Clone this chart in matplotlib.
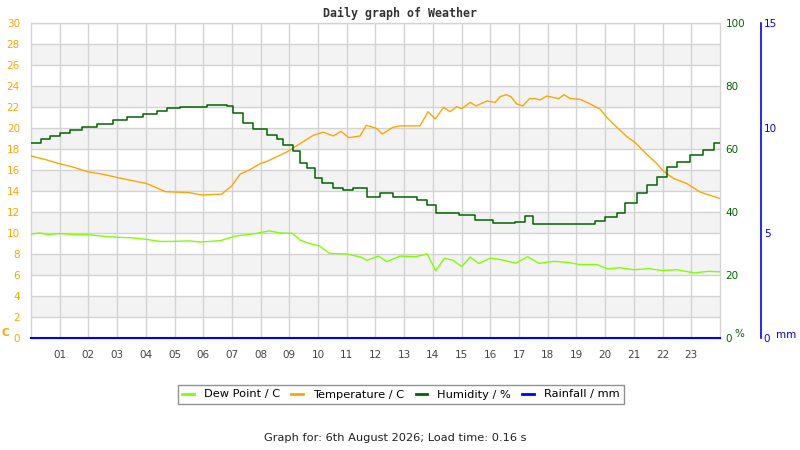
import matplotlib
matplotlib.use("Agg")
import matplotlib.pyplot as plt
from matplotlib.lines import Line2D

# ---------------- data ----------------
temp_h = [0, 0.5, 0.95, 1.5, 1.96, 2.5, 2.98, 3.5, 4.0, 4.3, 4.67, 5.0, 5.5, 5.95, 6.64, 7.0, 7.28, 7.6,
          7.98, 8.2, 8.43, 8.9, 9.37, 9.83, 10.18, 10.53, 10.8, 11.07, 11.46, 11.68, 12.03, 12.24, 12.6,
          12.86, 13.55, 13.83, 14.08, 14.37, 14.6, 14.83, 15.0, 15.3, 15.5, 15.88, 16.17, 16.34, 16.55,
          16.72, 16.92, 17.13, 17.36, 17.56, 17.73, 17.97, 18.2, 18.38, 18.57, 18.78, 19.13, 19.48, 19.83,
          20.06, 20.41, 20.76, 21.05, 21.45, 21.8, 22.03, 22.38, 22.85, 23.31, 23.98]
temp = [17.33, 17.0, 16.63, 16.25, 15.84, 15.6, 15.3, 15.0, 14.73, 14.4, 13.94, 13.9, 13.85, 13.62, 13.7,
        14.5, 15.6, 16.0, 16.6, 16.8, 17.1, 17.7, 18.5, 19.3, 19.6, 19.24, 19.68, 19.08, 19.24, 20.25, 19.97,
        19.43, 20.06, 20.2, 20.2, 21.55, 20.86, 21.97, 21.55, 22.03, 21.84, 22.44, 22.1, 22.57, 22.44, 22.98,
        23.17, 22.98, 22.29, 22.1, 22.79, 22.8, 22.67, 23.05, 22.9, 22.8, 23.17, 22.8, 22.73, 22.29, 21.78,
        21.0, 20.06, 19.17, 18.6, 17.5, 16.6, 15.9, 15.2, 14.7, 13.9, 13.3]

dew_h = [0, 0.3, 0.6, 1.0, 1.5, 2.0, 2.5, 3.0, 3.5, 4.0, 4.5, 5.0, 5.5, 5.9, 6.6, 7.1, 7.8, 8.3, 8.7, 9.1,
         9.37, 9.7, 10.05, 10.4, 11.0, 11.5, 11.7, 12.1, 12.4, 12.85, 13.4, 13.8, 14.1, 14.4, 14.7, 15.0,
         15.3, 15.6, 16.0, 16.3, 16.9, 17.3, 17.7, 18.2, 18.7, 19.1, 19.7, 20.1, 20.5, 21.0, 21.5, 22.0,
         22.5, 23.1, 23.6, 24.0]
dew = [9.9, 10.0, 9.85, 9.95, 9.85, 9.84, 9.7, 9.59, 9.55, 9.4, 9.2, 9.2, 9.25, 9.14, 9.27, 9.7, 9.94,
       10.2, 10.0, 9.97, 9.33, 9.0, 8.76, 8.06, 8.0, 7.7, 7.4, 7.8, 7.27, 7.8, 7.75, 8.0, 6.4, 7.6, 7.4,
       6.8, 7.7, 7.1, 7.6, 7.5, 7.13, 7.75, 7.1, 7.3, 7.2, 7.0, 7.0, 6.57, 6.7, 6.5, 6.6, 6.43, 6.5, 6.2,
       6.35, 6.3]

hum_h = [0, 0.34, 0.66, 1.01, 1.36, 1.77, 2.29, 2.87, 3.33, 3.91, 4.38, 4.73, 5.19, 6.12, 6.82, 7.05, 7.4,
         7.75, 8.21, 8.56, 8.79, 9.14, 9.37, 9.61, 9.9, 10.13, 10.53, 10.88, 11.23, 11.7, 12.16, 12.62,
         13.44, 13.8, 14.1, 14.9, 15.45, 16.1, 16.85, 17.2, 17.5, 19.2, 19.65, 20.0, 20.4, 20.7, 21.1,
         21.45, 21.8, 22.15, 22.5, 22.95, 23.4, 23.8, 24.0]
hum = [61.8, 63.1, 64.1, 65.2, 66.0, 66.9, 67.9, 69.2, 70.1, 71.0, 72.1, 72.9, 73.4, 73.9, 73.7, 71.3,
       68.1, 66.2, 64.4, 63.1, 61.3, 59.5, 55.5, 53.9, 50.7, 49.3, 47.5, 47.0, 47.5, 44.9, 46.1, 44.7,
       43.8, 42.2, 39.8, 39.0, 37.5, 36.6, 36.9, 38.7, 36.2, 36.2, 37.3, 38.3, 39.8, 42.8, 45.9, 48.6,
       51.2, 54.4, 56.0, 58.1, 59.7, 61.8, 61.8]

rain_h = [0, 24]
rain = [0, 0]

hour_ticks = list(range(1, 24))
hour_labels = ["%02d" % h for h in hour_ticks]
temp_ticks = list(range(0, 31, 2))
hum_ticks = [0, 20, 40, 60, 80, 100]
rain_ticks = [0, 5, 10, 15]

title = "Daily graph of Weather"
footer = "Graph for: 6th August 2026; Load time: 0.16 s"
series_names = ["Dew Point / C", "Temperature / C", "Humidity / %", "Rainfall / mm"]

# ---------------- style ----------------
C_DEW = "#7fff00"
C_TEMP = "#ffa500"
C_HUM = "#006400"
C_RAIN = "#0000ff"
C_GRID = "#d3d3d3"
C_BAND = "#f3f3f3"
FS = 7.5
FS2 = 8.2

plt.rcParams["font.family"] = ["DejaVu Sans"]
fig = plt.figure(figsize=(8, 4.5), dpi=100)
ax = fig.add_axes([31 / 800, 1 - 338 / 450, 689 / 800, 315 / 450])

ax.set_xlim(0, 24)
ax.set_ylim(0, 30)
# alternating bands
for lo in range(2, 30, 4):
    ax.axhspan(lo, lo + 2, color=C_BAND, zorder=0, lw=0)
for y in temp_ticks:
    ax.axhline(y, color=C_GRID, lw=1, zorder=0.5)
for h in hour_ticks:
    ax.axvline(h, color=C_GRID, lw=1, zorder=0.5)
for s in ax.spines.values():
    s.set_color(C_GRID)
    s.set_linewidth(1)

ax.plot(dew_h, dew, color=C_DEW, lw=1, zorder=3)
ax.plot(temp_h, temp, color=C_TEMP, lw=1, zorder=3)

ax.set_xticks(hour_ticks)
ax.set_xticklabels(hour_labels)
ax.set_yticks(temp_ticks)
ax.tick_params(axis="x", length=0, pad=9, labelsize=FS, labelcolor="#444444")
ax.tick_params(axis="y", length=0, pad=8, labelsize=FS, labelcolor=C_TEMP)

ax2 = ax.twinx()
ax2.set_ylim(0, 100)
ax2.set_yticks(hum_ticks)
ax2.tick_params(axis="y", length=0, pad=4, labelsize=FS, labelcolor=C_HUM)
for s in ax2.spines.values():
    s.set_visible(False)
ax2.plot(hum_h, hum, color=C_HUM, lw=1.1, drawstyle="steps-post", zorder=4)

ax3 = ax.twinx()
ax3.set_ylim(0, 15)
ax3.set_yticks(rain_ticks)
for k, s in ax3.spines.items():
    s.set_visible(False)
ax3.spines["right"].set_visible(True)
ax3.spines["right"].set_position(("axes", (761 - 31) / 689))
ax3.spines["right"].set_color(C_RAIN)
ax3.spines["right"].set_linewidth(1.2)
ax3.tick_params(axis="y", length=0, pad=2, labelsize=FS, labelcolor=C_RAIN)
ax3.plot(rain_h, rain, color=C_RAIN, lw=1.5, zorder=5, clip_on=False)

# axis unit labels
fig.text(5 / 800, 1 - 333 / 450, "C", color=C_TEMP, fontsize=FS, fontweight="bold",
         ha="center", va="center")
fig.text(739 / 800, 1 - 334 / 450, "%", color=C_HUM, fontsize=FS, ha="center", va="center")
fig.text(786 / 800, 1 - 335 / 450, "mm", color=C_RAIN, fontsize=FS, ha="center", va="center")

fig.text(400 / 800, 1 - 13 / 450, title, fontsize=8.4, fontweight="bold", family="DejaVu Sans Mono",
         color="#333333", ha="center", va="center")
fig.text(395 / 800, 1 - 438 / 450, footer, fontsize=FS2, color="#222222", ha="center", va="center")

handles = [Line2D([], [], color=c, lw=2) for c in (C_DEW, C_TEMP, C_HUM, C_RAIN)]
leg = fig.legend(handles, series_names, loc="center", bbox_to_anchor=(401 / 800, 1 - 394.5 / 450),
                 ncol=4, fontsize=FS2, frameon=True, fancybox=False, handlelength=1.0,
                 handletextpad=0.9, columnspacing=1.0, borderpad=0.4, borderaxespad=0)
leg.get_frame().set_edgecolor("#777777")
leg.get_frame().set_linewidth(1)

fig.savefig("out.png", dpi=100)
